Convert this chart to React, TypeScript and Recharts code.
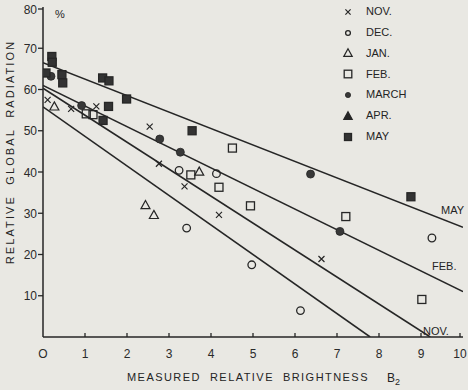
import React from "react";
import { ScatterChart, Scatter, XAxis, YAxis } from "recharts";

const INK = "#262626";
const PAPER = "#e9e8e3";
const FONT = "'Liberation Sans', Arial, sans-serif";

const xTicks = [0, 1, 2, 3, 4, 5, 6, 7, 8, 9, 10];
const yTicks = [10, 20, 30, 40, 50, 60, 70, 80];

const nov = [
  { x: 0.11, y: 57.5 }, { x: 0.67, y: 55.3 }, { x: 1.27, y: 55.9 }, { x: 2.54, y: 51.0 },
  { x: 2.76, y: 42.0 }, { x: 3.37, y: 36.5 }, { x: 4.19, y: 29.6 }, { x: 6.63, y: 18.9 },
];
const dec = [
  { x: 3.24, y: 40.4 }, { x: 4.13, y: 39.6 }, { x: 3.42, y: 26.4 }, { x: 4.97, y: 17.5 },
  { x: 6.13, y: 6.4 }, { x: 9.26, y: 24.0 },
];
const jan = [
  { x: 0.27, y: 55.9 }, { x: 3.72, y: 40.1 }, { x: 2.44, y: 32.0 }, { x: 2.64, y: 29.6 },
];
const feb = [
  { x: 1.03, y: 54.1 }, { x: 1.19, y: 53.9 }, { x: 3.52, y: 39.3 }, { x: 4.51, y: 45.8 },
  { x: 4.19, y: 36.3 }, { x: 4.94, y: 31.8 }, { x: 7.21, y: 29.2 }, { x: 9.02, y: 9.1 },
];
const march = [
  { x: 0.19, y: 63.2 }, { x: 0.92, y: 56.1 }, { x: 2.78, y: 48.0 }, { x: 3.27, y: 44.8 },
  { x: 6.37, y: 39.5 }, { x: 7.07, y: 25.6 },
];
const may = [
  { x: 0.07, y: 64.0 }, { x: 0.21, y: 68.0 }, { x: 0.22, y: 66.6 }, { x: 0.45, y: 63.6 },
  { x: 0.47, y: 61.6 }, { x: 1.42, y: 62.8 }, { x: 1.57, y: 62.1 }, { x: 1.99, y: 57.7 },
  { x: 1.56, y: 55.9 }, { x: 1.43, y: 52.5 }, { x: 3.55, y: 50.0 }, { x: 8.76, y: 34.0 },
];

// fitted lines
const mayLine = [{ x: 0, y: 66.5 }, { x: 10, y: 26.6 }];
const febLine = [{ x: 0, y: 61 }, { x: 10, y: 11 }];
const novLine = [{ x: 0, y: 60.3 }, { x: 9.22, y: 0 }];
const lowLine = [{ x: 0, y: 55.8 }, { x: 7.79, y: 0 }];

const crossShape = (p: any, s = 3) => (
  <path
    d={`M${p.cx - s},${p.cy - s}L${p.cx + s},${p.cy + s}M${p.cx + s},${p.cy - s}L${p.cx - s},${p.cy + s}`}
    stroke={INK}
    strokeWidth={1.2}
  />
);
const circleShape = (p: any, r = 3.8) => (
  <circle cx={p.cx} cy={p.cy} r={r} fill="none" stroke={INK} strokeWidth={1.3} />
);
const triShape = (p: any, s = 4.5, filled = false) => (
  <path
    d={`M${p.cx},${p.cy - s}L${p.cx + s},${p.cy + s * 0.8}L${p.cx - s},${p.cy + s * 0.8}Z`}
    fill={filled ? INK : "none"}
    stroke={INK}
    strokeWidth={1.2}
  />
);
const squareShape = (p: any, s = 4, filled = false) => (
  <rect
    x={p.cx - s}
    y={p.cy - s}
    width={s * 2}
    height={s * 2}
    fill={filled ? "#333" : "none"}
    stroke={INK}
    strokeWidth={1.3}
  />
);
const dotShape = (p: any, r = 4) => <circle cx={p.cx} cy={p.cy} r={r} fill="#383838" stroke={INK} strokeWidth={0.8} />;
const noShape = () => <g />;

const legendItems = [
  { name: "NOV.", icon: (p: any) => crossShape(p, 2.6) },
  { name: "DEC.", icon: (p: any) => circleShape(p, 2.4) },
  { name: "JAN.", icon: (p: any) => triShape(p, 4.2) },
  { name: "FEB.", icon: (p: any) => squareShape(p, 3.8) },
  { name: "MARCH", icon: (p: any) => dotShape(p, 2.6) },
  { name: "APR.", icon: (p: any) => triShape(p, 4.2, true) },
  { name: "MAY", icon: (p: any) => squareShape(p, 3.5, true) },
];

const XTick = (props: any) => {
  const { x, y, payload } = props;
  return (
    <g>
      {payload.value !== 0 && <line x1={x} y1={y} x2={x} y2={y - 4} stroke={INK} strokeWidth={1.3} />}
      <text x={x} y={y + 21} textAnchor="middle" fontSize={12} fill="#2a2a2a" fontFamily={FONT}>
        {payload.value === 0 ? "O" : payload.value}
      </text>
    </g>
  );
};

const YTick = (props: any) => {
  const { x, y, payload } = props;
  return (
    <g>
      <line x1={x - 5} y1={y} x2={x} y2={y} stroke={INK} strokeWidth={1.3} />
      <text x={x - 6} y={y + 4.5} textAnchor="end" fontSize={12} fill="#2a2a2a" fontFamily={FONT}>
        {payload.value}
      </text>
    </g>
  );
};

const textStyle: React.CSSProperties = {
  position: "absolute",
  fontFamily: FONT,
  color: "#242424",
  fontSize: 11,
  whiteSpace: "nowrap",
  lineHeight: 1,
};

export default function App() {
  return (
    <div style={{ position: "absolute", left: 0, top: 0, width: 468, height: 390, background: PAPER, overflow: "hidden" }}>
      <ScatterChart width={468} height={390} margin={{ top: 7, right: 5, left: 0, bottom: 23 }}>
        <XAxis
          type="number"
          dataKey="x"
          domain={[0, 10]}
          ticks={xTicks}
          height={30}
          tickSize={0}
          tickMargin={0}
          tickLine={false}
          tick={<XTick />}
          axisLine={{ stroke: INK, strokeWidth: 1.5 }}
          allowDataOverflow
        />
        <YAxis
          type="number"
          dataKey="y"
          domain={[0, 80]}
          ticks={yTicks}
          width={43}
          tickSize={0}
          tickMargin={0}
          tickLine={false}
          tick={<YTick />}
          axisLine={{ stroke: INK, strokeWidth: 1.5 }}
          allowDataOverflow
        />
        <Scatter data={mayLine} line={{ stroke: INK, strokeWidth: 1.6 }} shape={noShape} isAnimationActive={false} />
        <Scatter data={febLine} line={{ stroke: INK, strokeWidth: 1.6 }} shape={noShape} isAnimationActive={false} />
        <Scatter data={novLine} line={{ stroke: INK, strokeWidth: 1.6 }} shape={noShape} isAnimationActive={false} />
        <Scatter data={lowLine} line={{ stroke: INK, strokeWidth: 1.6 }} shape={noShape} isAnimationActive={false} />
        <Scatter data={nov} shape={(p: any) => crossShape(p)} isAnimationActive={false} />
        <Scatter data={dec} shape={(p: any) => circleShape(p)} isAnimationActive={false} />
        <Scatter data={jan} shape={(p: any) => triShape(p)} isAnimationActive={false} />
        <Scatter data={feb} shape={(p: any) => squareShape(p)} isAnimationActive={false} />
        <Scatter data={march} shape={(p: any) => dotShape(p)} isAnimationActive={false} />
        <Scatter data={may} shape={(p: any) => squareShape(p, 4, true)} isAnimationActive={false} />
      </ScatterChart>

      <div style={{ ...textStyle, left: 55, top: 9 }}>%</div>

      {legendItems.map((item, i) => {
        const cy = 11.7 + i * 20.8;
        return (
          <React.Fragment key={item.name}>
            <svg style={{ position: "absolute", left: 340, top: cy - 8 }} width={16} height={16}>
              {item.icon({ cx: 8, cy: 8 })}
            </svg>
            <div style={{ ...textStyle, left: 366, top: cy - 5.5 }}>{item.name}</div>
          </React.Fragment>
        );
      })}

      <div style={{ ...textStyle, left: 441, top: 205 }}>MAY</div>
      <div style={{ ...textStyle, left: 432, top: 261 }}>FEB.</div>
      <div style={{ ...textStyle, left: 423, top: 326 }}>NOV.</div>

      <div style={{ ...textStyle, left: 127, top: 372, letterSpacing: 1.45 }}>MEASURED&nbsp;&nbsp;RELATIVE&nbsp;&nbsp;BRIGHTNESS</div>
      <div style={{ ...textStyle, left: 387, top: 372, fontSize: 12 }}>
        B<span style={{ fontSize: 9, position: "relative", top: 3 }}>2</span>
      </div>
      <div
        style={{
          ...textStyle,
          left: 10,
          top: 152,
          letterSpacing: 2.1,
          transform: "translate(-50%, -50%) rotate(-90deg)",
        }}
      >
        RELATIVE&nbsp;&nbsp;GLOBAL&nbsp;&nbsp;RADIATION
      </div>
    </div>
  );
}
